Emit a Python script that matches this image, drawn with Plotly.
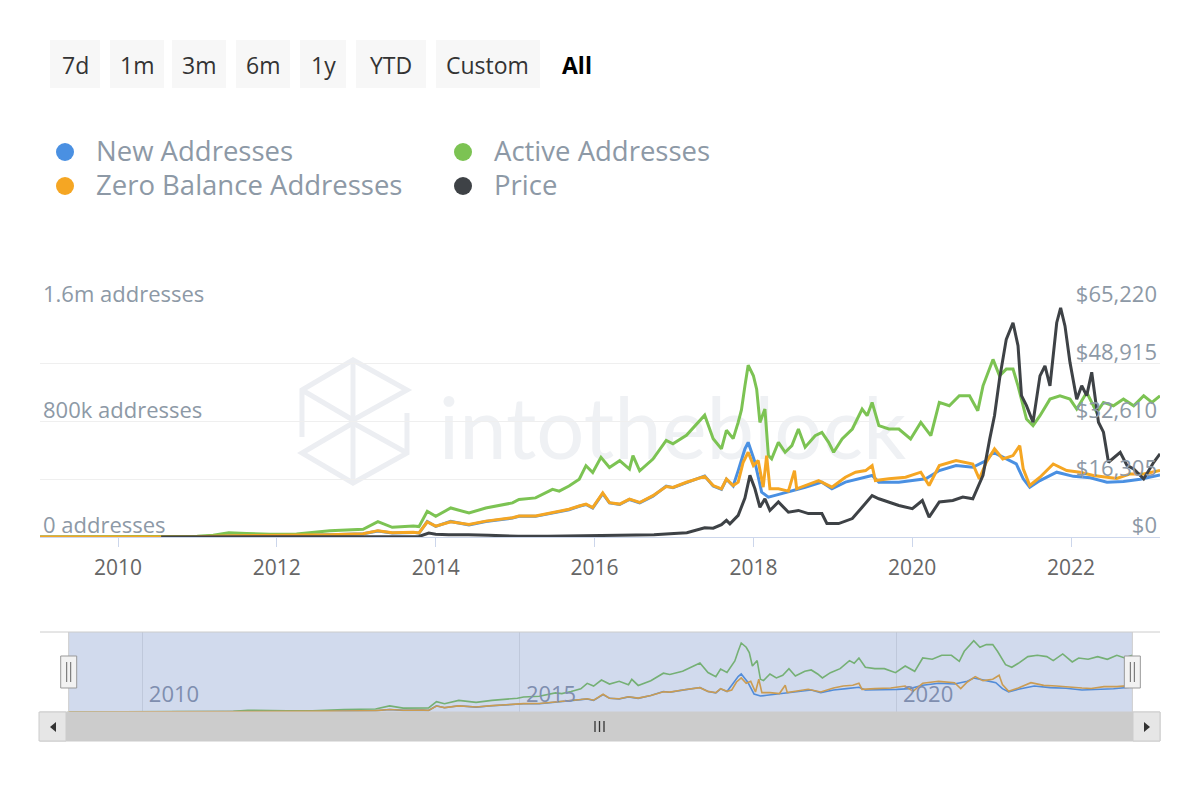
import plotly.graph_objects as go

# ---------------- data ----------------
active_dates = ["2009-01-03","2010-01-01","2010-07-15","2010-12-31","2011-03-15","2011-05-25","2011-08-15","2011-12-01",
    "2012-04-01","2012-09-01","2013-02-01","2013-04-10","2013-06-15","2013-09-20","2013-10-16","2013-11-23",
    "2014-01-01","2014-03-11","2014-06-03","2014-08-19","2014-12-20","2015-01-19","2015-04-05","2015-06-22",
    "2015-07-23","2015-09-06","2015-10-23","2015-11-23","2015-12-24","2016-01-31","2016-03-10","2016-04-26",
    "2016-06-10","2016-06-26","2016-07-27","2016-09-26","2016-11-26","2016-12-27","2017-02-27","2017-05-22",
    "2017-06-30","2017-08-07","2017-08-30","2017-09-30","2017-10-23","2017-11-07","2017-11-23","2017-12-08",
    "2018-01-01","2018-01-16","2018-01-31","2018-02-23","2018-03-11","2018-03-26","2018-04-26","2018-05-27",
    "2018-06-27","2018-07-27","2018-08-27","2018-10-12","2018-11-12","2018-12-13","2019-01-05","2019-02-13",
    "2019-04-01","2019-05-16","2019-06-08","2019-07-01","2019-08-01","2019-09-16","2019-11-01","2019-12-25",
    "2020-02-10","2020-03-27","2020-05-05","2020-06-20","2020-08-05","2020-09-21","2020-10-29","2020-11-22",
    "2021-01-07","2021-02-06","2021-03-09","2021-04-09","2021-05-02","2021-06-10","2021-07-10","2021-08-11",
    "2021-09-26","2021-11-11","2021-12-27","2022-01-27","2022-03-14","2022-04-29","2022-05-30","2022-07-15",
    "2022-08-30","2022-10-16","2022-12-01","2023-01-08","2023-02-14"]
active_values = [0,0,1000,5000,12000,30000,24000,19000,
    20000,44000,53000,106000,67000,76000,72000,178000,
    143000,201000,166000,201000,236000,260000,271000,330000,
    318000,353000,400000,494000,447000,552000,482000,529000,
    470000,564000,458000,540000,669000,646000,704000,844000,
    681000,610000,739000,681000,794000,880000,1047000,1190000,
    1117000,1024000,794000,886000,564000,541000,656000,587000,
    633000,748000,622000,702000,725000,656000,587000,679000,
    748000,886000,840000,932000,771000,748000,748000,679000,
    794000,702000,932000,909000,978000,978000,875000,1047000,
    1230000,1117000,1163000,1163000,1047000,817000,771000,840000,
    955000,978000,955000,886000,1001000,863000,932000,909000,
    955000,909000,978000,932000,978000]

new_dates = ["2009-01-03","2010-07-15","2011-01-01","2011-06-01","2012-01-01","2012-09-01","2013-02-01","2013-04-10",
    "2013-06-15","2013-09-20","2013-10-16","2013-11-23","2014-01-01","2014-03-11","2014-06-03","2014-08-19",
    "2014-12-20","2015-01-19","2015-04-05","2015-06-22","2015-09-06","2015-10-23","2015-11-23","2015-12-24",
    "2016-02-08","2016-03-10","2016-04-26","2016-06-10","2016-07-27","2016-09-26","2016-11-26","2016-12-27",
    "2017-02-27","2017-05-22","2017-06-30","2017-08-07","2017-08-30","2017-09-30","2017-10-23","2017-11-23",
    "2017-12-08","2018-01-08","2018-02-08","2018-03-11","2018-04-11","2018-06-11","2018-08-27","2018-11-12",
    "2018-12-28","2019-02-28","2019-05-01","2019-07-01","2019-08-01","2019-11-01","2020-01-02","2020-03-04",
    "2020-05-05","2020-07-21","2020-10-06","2020-12-07","2021-01-07","2021-03-09","2021-04-24","2021-05-26",
    "2021-06-25","2021-08-11","2021-10-27","2022-01-12","2022-03-30","2022-06-15","2022-08-30","2022-11-15",
    "2023-02-14"]
new_values = [0,0,2000,8000,9000,15000,22000,42000,
    28000,32000,26000,108000,73000,108000,84000,108000,
    131000,143000,143000,166000,189000,213000,225000,201000,
    300000,236000,225000,260000,236000,283000,353000,341000,
    377000,423000,353000,330000,400000,353000,460000,610000,
    656000,518000,311000,276000,288000,311000,345000,380000,
    334000,380000,403000,426000,380000,380000,391000,403000,
    460000,495000,483000,529000,587000,541000,506000,403000,
    345000,391000,449000,420000,410000,380000,385000,400000,
    430000]

zero_dates = ["2009-01-03","2010-07-15","2011-01-01","2011-06-01","2012-01-01","2012-09-01","2013-02-01","2013-04-10",
    "2013-06-15","2013-09-20","2013-10-16","2013-11-23","2014-01-01","2014-03-11","2014-06-03","2014-08-19",
    "2014-12-20","2015-01-19","2015-04-05","2015-06-22","2015-09-06","2015-10-23","2015-11-23","2015-12-24",
    "2016-02-08","2016-03-10","2016-04-26","2016-06-10","2016-07-27","2016-09-26","2016-11-26","2016-12-27",
    "2017-02-27","2017-05-22","2017-06-30","2017-08-07","2017-08-30","2017-09-30","2017-10-23","2017-11-15",
    "2017-12-08","2018-01-01","2018-01-23","2018-02-15","2018-03-03","2018-03-18","2018-04-26","2018-06-11",
    "2018-07-09","2018-07-19","2018-08-27","2018-10-28","2018-12-28","2019-02-28","2019-04-16","2019-06-01",
    "2019-07-01","2019-07-16","2019-09-16","2019-12-02","2020-02-10","2020-03-19","2020-05-05","2020-07-21",
    "2020-10-06","2020-11-05","2020-12-07","2021-01-14","2021-02-21","2021-04-09","2021-05-10","2021-05-26",
    "2021-06-25","2021-08-11","2021-10-11","2021-12-12","2022-02-11","2022-04-14","2022-06-15","2022-07-30",
    "2022-09-30","2022-12-01","2023-02-14"]
zero_values = [0,0,2000,9000,10000,16000,23000,44000,
    29000,33000,28000,104000,75000,106000,86000,110000,
    133000,145000,146000,168000,192000,215000,228000,204000,
    306000,238000,228000,262000,239000,286000,350000,343000,
    379000,420000,356000,333000,402000,356000,380000,518000,
    587000,495000,529000,345000,564000,334000,334000,318000,
    460000,334000,357000,391000,345000,414000,449000,460000,
    495000,391000,403000,414000,449000,357000,495000,529000,
    506000,403000,518000,610000,541000,564000,633000,472000,
    357000,414000,506000,460000,449000,426000,414000,405000,
    437000,437000,460000]

price_dates = ["2010-07-18","2011-06-08","2011-11-18","2012-08-15","2013-01-01","2013-04-10","2013-07-05","2013-10-16",
    "2013-11-30","2014-01-01","2014-03-01","2014-06-01","2014-09-01","2015-01-15","2015-06-01","2015-11-05",
    "2016-01-01","2016-06-15","2016-10-01","2017-01-01","2017-03-01","2017-05-22","2017-06-30","2017-08-07",
    "2017-08-30","2017-09-15","2017-10-23","2017-11-23","2017-12-16","2018-01-08","2018-01-31","2018-02-23",
    "2018-03-18","2018-04-26","2018-06-11","2018-07-27","2018-09-11","2018-11-12","2018-12-05","2019-01-28",
    "2019-04-01","2019-05-16","2019-07-01","2019-08-01","2019-09-16","2019-11-01","2020-01-02","2020-02-17",
    "2020-03-19","2020-05-05","2020-07-06","2020-08-21","2020-10-06","2020-11-22","2020-12-23","2021-01-14",
    "2021-02-06","2021-03-09","2021-04-09","2021-05-02","2021-05-18","2021-06-10","2021-07-10","2021-08-11",
    "2021-09-03","2021-09-26","2021-10-27","2021-11-14","2021-12-04","2021-12-27","2022-01-27","2022-02-19",
    "2022-03-14","2022-04-06","2022-05-07","2022-05-30","2022-06-22","2022-08-15","2022-09-15","2022-10-16",
    "2022-12-01","2023-01-16","2023-02-14"]
price_values = [0.1,30,2.5,12,13,230,70,150,
    1100,800,600,650,480,200,230,400,
    430,700,610,1000,1200,2600,2500,3500,
    4700,3700,6100,11000,17400,13600,8400,10800,
    7500,9900,7000,7500,6600,6600,3800,3800,
    5200,8400,11700,10800,9900,8900,8000,10300,
    5600,9900,10300,11300,10800,17400,27700,34300,
    44600,55800,60500,54000,39900,37100,32400,45500,
    48300,42700,60500,64700,59600,49300,38900,42700,
    39900,46500,32400,29600,21100,23900,20200,19200,
    16400,21100,23500]

addr_tickvals = [0, 400000, 800000, 1200000, 1600000]
addr_ticktext = ["0 addresses", "", "800k addresses", "", "1.6m addresses"]
price_tickvals = [0, 16305, 32610, 48915, 65220]
price_ticktext = ["$0", "$16,305", "$32,610", "$48,915", "$65,220"]
main_range = ["2009-01-07", "2023-02-14"]
nav_range = ["2008-08-21", "2023-06-28"]
buttons = ["7d", "1m", "3m", "6m", "1y", "YTD", "Custom"]
legend_names = ["New Addresses", "Active Addresses", "Zero Balance Addresses", "Price"]

C_BLUE, C_GREEN, C_ORANGE, C_DARK = "#4a90e2", "#7cc353", "#f5a623", "#3e4246"
FONT = "Open Sans, Noto Sans, Liberation Sans, sans-serif"
OFF = 8                       # the page's body margin
W, H = 1200 - OFF, 800 - OFF  # figure size so the page fits the window


def px(x):
    """window pixel x -> paper fraction"""
    return (x - OFF) / W


def py(y):
    """window pixel y -> paper fraction"""
    return 1 - (y - OFF) / H


fig = go.Figure()

# main series
for d, v, c, n in [(new_dates, new_values, C_BLUE, legend_names[0]),
                   (active_dates, active_values, C_GREEN, legend_names[1]),
                   (zero_dates, zero_values, C_ORANGE, legend_names[2])]:
    fig.add_trace(go.Scatter(x=d, y=v, mode="lines", name=n, line=dict(color=c, width=3),
                             xaxis="x", yaxis="y", hoverinfo="skip"))
fig.add_trace(go.Scatter(x=price_dates, y=price_values, mode="lines", name=legend_names[3],
                         line=dict(color=C_DARK, width=3), xaxis="x", yaxis="y2", hoverinfo="skip"))

# navigator series
for d, v, c in [(new_dates, new_values, C_BLUE), (active_dates, active_values, C_GREEN),
                (zero_dates, zero_values, C_ORANGE)]:
    fig.add_trace(go.Scatter(x=d, y=v, mode="lines", line=dict(color=c, width=1.6),
                             xaxis="x2", yaxis="y3", hoverinfo="skip", showlegend=False))

shapes = []
annotations = []

# range selector buttons
btn_boxes = [(50, 100), (110, 164), (172, 226), (236, 290), (300, 346), (356, 426), (436, 540)]
for (x0, x1), label in zip(btn_boxes, buttons):
    shapes.append(dict(type="rect", xref="paper", yref="paper", x0=px(x0), x1=px(x1), y0=py(88), y1=py(40),
                       fillcolor="#f7f7f7", line=dict(width=0), layer="above"))
    annotations.append(dict(xref="paper", yref="paper", x=px((x0 + x1) / 2), y=py(65), text=label,
                            showarrow=False, xanchor="center", yanchor="middle",
                            font=dict(family=FONT, size=23, color="#333333")))
annotations.append(dict(xref="paper", yref="paper", x=px(577), y=py(65), text="<b>All</b>", showarrow=False,
                        xanchor="center", yanchor="middle", font=dict(family=FONT, size=23, color="#000000")))

# legend (manual)
leg = [(65, 152, C_BLUE, legend_names[0]), (463, 152, C_GREEN, legend_names[1]),
       (65, 186, C_ORANGE, legend_names[2]), (463, 186, C_DARK, legend_names[3])]
for cx, cy, c, n in leg:
    shapes.append(dict(type="circle", xref="paper", yref="paper", x0=px(cx - 9), x1=px(cx + 9),
                       y0=py(cy + 9), y1=py(cy - 9), fillcolor=c, line=dict(width=0), layer="above"))
    annotations.append(dict(xref="paper", yref="paper", x=px(cx + 29), y=py(cy - 2), text=n, showarrow=False,
                            xanchor="left", yanchor="middle", font=dict(family=FONT, size=27.5, color="#8d99a6")))

# watermark (below the lines)
wm = "#eceef2"


def pth(pts):
    return "M " + " L ".join(f"{px(a):.5f},{py(b):.5f}" for a, b in pts)


logo_paths = [
    [(302, 437), (302, 390), (353, 360), (407, 390), (353, 420), (302, 390)],
    [(353, 360), (353, 420)],
    [(407, 413), (407, 453), (353, 483), (302, 453), (353, 423), (407, 453)],
    [(353, 423), (353, 483)],
]
for p in logo_paths:
    shapes.append(dict(type="path", xref="paper", yref="paper", path=pth(p),
                       line=dict(color=wm, width=5), layer="below"))
shapes.append(dict(type="rect", xref="paper", yref="paper", x0=px(430), x1=px(915), y0=py(470), y1=py(380),
                   line=dict(width=0), fillcolor="rgba(0,0,0,0)", layer="below",
                   label=dict(text="intotheblock", textposition="middle center",
                              font=dict(family="Lato, Open Sans, sans-serif", size=85, color="#eff1f4"))))

# navigator decorations
shapes.append(dict(type="rect", xref="x2", yref="paper", x0=main_range[0], x1=main_range[1],
                   y0=py(712), y1=py(632), fillcolor="rgba(102,133,194,0.3)", line=dict(width=0), layer="above"))
shapes.append(dict(type="line", xref="paper", yref="paper", x0=px(40), x1=px(1160), y0=py(632), y1=py(632),
                   line=dict(color="#cccccc", width=1), layer="above"))
# scrollbar
shapes.append(dict(type="rect", xref="paper", yref="paper", x0=px(40), x1=px(1160), y0=py(741), y1=py(712),
                   fillcolor="#cccccc", line=dict(color="#cccccc", width=1), layer="above"))
for x0, x1 in [(39, 66), (1133, 1160)]:
    shapes.append(dict(type="rect", xref="paper", yref="paper", x0=px(x0), x1=px(x1), y0=py(741), y1=py(712),
                       fillcolor="#e6e6e6", line=dict(color="#cccccc", width=1), layer="above"))
shapes.append(dict(type="path", xref="paper", yref="paper",
                   path=pth([(50, 727), (56, 722), (56, 732)]) + " Z", fillcolor="#333333",
                   line=dict(width=0), layer="above"))
shapes.append(dict(type="path", xref="paper", yref="paper",
                   path=pth([(1150, 727), (1144, 722), (1144, 732)]) + " Z", fillcolor="#333333",
                   line=dict(width=0), layer="above"))
for gx in [595, 599.5, 604]:
    shapes.append(dict(type="line", xref="paper", yref="paper", x0=px(gx), x1=px(gx), y0=py(721), y1=py(732),
                       line=dict(color="#333333", width=1.3), layer="above"))
# navigator handles + outline at mask edges
for anchor in main_range:
    shapes.append(dict(type="line", xref="x2", yref="paper", xsizemode="pixel", xanchor=anchor, x0=0, x1=0,
                       y0=py(712), y1=py(632), line=dict(color="#cccccc", width=1), layer="above"))
    shapes.append(dict(type="rect", xref="x2", yref="paper", xsizemode="pixel", xanchor=anchor, x0=-8, x1=8,
                       y0=py(688), y1=py(656), fillcolor="#f2f2f2", line=dict(color="#999999", width=1),
                       layer="above"))
    for dx in [-2, 2]:
        shapes.append(dict(type="line", xref="x2", yref="paper", xsizemode="pixel", xanchor=anchor, x0=dx, x1=dx,
                           y0=py(682), y1=py(662), line=dict(color="#666666", width=1), layer="above"))

fig.update_layout(
    width=W, height=H,
    margin=dict(l=0, r=0, t=0, b=0, autoexpand=False),
    paper_bgcolor="white", plot_bgcolor="white",
    showlegend=False, hovermode=False, dragmode=False,
    font=dict(family=FONT),
    shapes=shapes, annotations=annotations,
    xaxis=dict(domain=[px(40), px(1160)], anchor="y", range=main_range, type="date",
               tickvals=[f"{y}-01-01" for y in range(2010, 2023, 2)], tickformat="%Y",
               ticks="outside", ticklen=9, tickcolor="#ccd6eb", tickwidth=1,
               showline=True, linecolor="#ccd6eb", linewidth=1, showgrid=False, zeroline=False,
               tickfont=dict(family=FONT, size=21, color="#666666"), ticklabelstandoff=3),
    yaxis=dict(domain=[py(537), py(306)], anchor="x", range=[0, 1600000],
               tickvals=addr_tickvals, ticktext=addr_ticktext, ticklabelposition="inside top",
               ticklabeloverflow="allow", showgrid=True, gridcolor="#efefef", gridwidth=1,
               zeroline=False, showline=False, ticks="", ticklabelshift=4,
               tickfont=dict(family=FONT, size=22, color="#8d99a6")),
    yaxis2=dict(overlaying="y", side="right", anchor="x", range=[0, 65220],
                tickvals=price_tickvals, ticktext=price_ticktext, ticklabelposition="inside top",
                ticklabeloverflow="allow", showgrid=False, zeroline=False, showline=False, ticks="",
                ticklabelshift=4,
                tickfont=dict(family=FONT, size=22, color="#8d99a6")),
    xaxis2=dict(domain=[px(40), px(1160)], anchor="y3", range=nav_range, type="date",
                tickvals=["2010-01-01", "2015-01-01", "2020-01-01"], tickformat="%Y",
                ticklabelposition="inside right", ticklabeloverflow="allow", ticks="",
                ticklabelshift=6,
                showgrid=True, gridcolor="#e6e6e6", showline=False, zeroline=False,
                tickfont=dict(family=FONT, size=22, color="#8a93a6")),
    yaxis3=dict(domain=[py(712), py(632)], anchor="x2", range=[0, 1380000], visible=False),
)

fig.write_html("out.html")
